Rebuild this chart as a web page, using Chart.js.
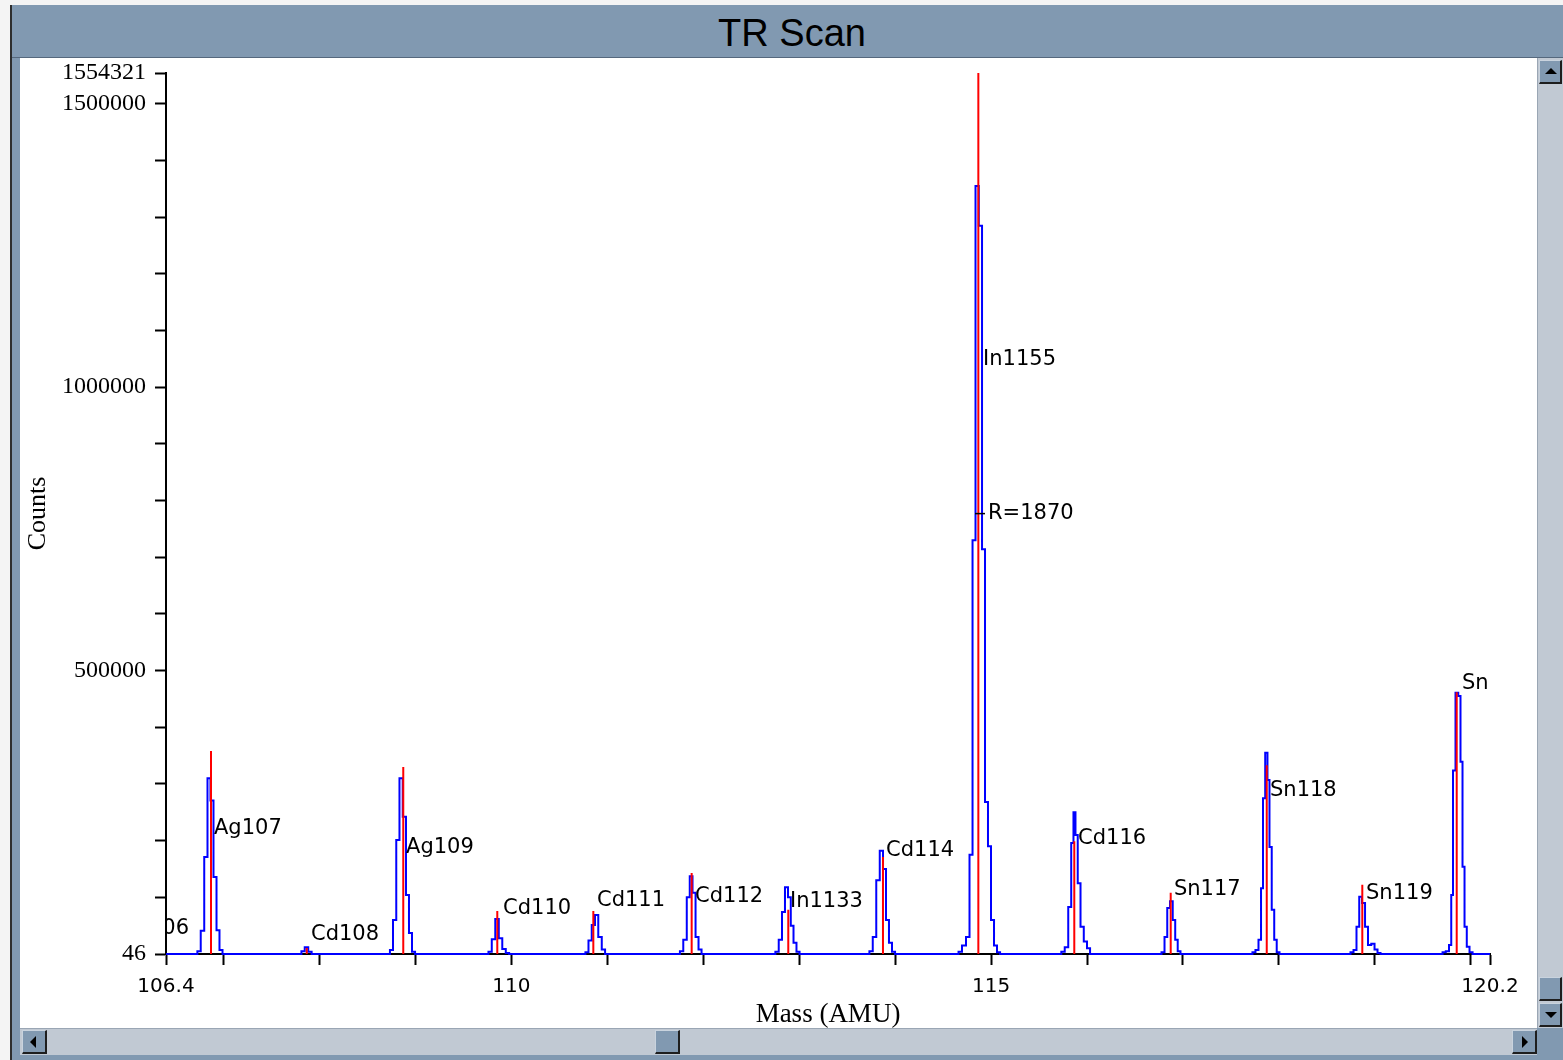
<!DOCTYPE html>
<html>
<head>
<meta charset="utf-8">
<script src="https://cdn.jsdelivr.net/npm/chart.js@4.4.1/dist/chart.umd.min.js"></script>
<style>
  html, body { margin:0; padding:0; }
  body { width:1563px; height:1060px; position:relative; overflow:hidden; background:#f4f4f4; font-family:"Liberation Sans", Arial, sans-serif; }
  .abs { position:absolute; box-sizing:border-box; }
  .btn { background:#8199b1; border-right:2px solid #1e1e1e; border-bottom:2px solid #1e1e1e; border-top:1px solid #c9d3de; border-left:1px solid #c9d3de; }
  .tri { position:absolute; width:0; height:0; }
</style>
</head>
<body>
<div class="abs" style="left:10px;top:5px;width:2px;height:1055px;background:#2e2e2e"></div>
<div class="abs" style="left:12px;top:5px;width:1551px;height:53px;background:#8199b1;border-bottom:1px solid #55687d"></div>
<div class="abs" style="left:592px;top:10px;width:400px;height:46px;text-align:center;font-size:38px;line-height:46px;color:#000;">TR Scan</div>
<div class="abs" style="left:12px;top:58px;width:8px;height:1002px;background:#8199b1"></div>
<div class="abs" style="left:20px;top:58px;width:1517px;height:970px;background:#fff"></div>
<canvas id="c" width="1517" height="970" style="position:absolute;left:20px;top:58px"></canvas>
<!-- right scrollbar -->
<div class="abs" style="left:1537px;top:58px;width:26px;height:970px;background:#c1c9d3;border-left:1px solid #9aa6b4"></div>
<div class="abs btn" style="left:1539px;top:60px;width:23px;height:24px"><div class="tri" style="left:5px;top:7px;border-left:6px solid transparent;border-right:6px solid transparent;border-bottom:6px solid #000"></div></div>
<div class="abs btn" style="left:1539px;top:977px;width:23px;height:24px"></div>
<div class="abs btn" style="left:1539px;top:1003px;width:23px;height:24px"><div class="tri" style="left:5px;top:8px;border-left:6px solid transparent;border-right:6px solid transparent;border-top:6px solid #000"></div></div>
<!-- bottom scrollbar -->
<div class="abs" style="left:20px;top:1028px;width:1517px;height:27px;background:#c1c9d3;border-top:1px solid #9aa6b4"></div>
<div class="abs btn" style="left:22px;top:1030px;width:25px;height:24px"><div class="tri" style="left:7px;top:5px;border-top:6px solid transparent;border-bottom:6px solid transparent;border-right:6px solid #000"></div></div>
<div class="abs btn" style="left:655px;top:1030px;width:25px;height:24px"></div>
<div class="abs btn" style="left:1512px;top:1030px;width:25px;height:24px"><div class="tri" style="left:9px;top:5px;border-top:6px solid transparent;border-bottom:6px solid transparent;border-left:6px solid #000"></div></div>
<div class="abs" style="left:1537px;top:1028px;width:26px;height:32px;background:#8199b1"></div>
<div class="abs" style="left:12px;top:1055px;width:1525px;height:5px;background:#8199b1"></div>

<script>
// ---------- data ----------
const yMin = 46;
const yMax = 1554321;
const xMin = 106.4;
const xMax = 120.2;

// centroid sticks (red)
const redMass   = [106.869, 107.867, 108.873, 109.853, 110.854, 111.879, 112.886, 113.873, 114.867, 115.867, 116.872, 117.873, 118.869, 119.853];
const redCounts = [358000, 10500, 330000, 76000, 76000, 143000, 78000, 171000, 1554321, 199000, 108000, 333000, 122000, 462000];

// profile scan (blue)
const blueMass = [
  106.400,
  106.710, 106.744, 106.780, 106.817, 106.848, 106.879, 106.911, 106.942, 106.973, 107.005,
  107.795, 107.828, 107.864, 107.901, 107.935,
  108.718, 108.750, 108.782, 108.818, 108.849, 108.886, 108.917, 108.948, 108.980, 109.012,
  109.745, 109.777, 109.814, 109.850, 109.887, 109.923, 109.960, 109.993,
  110.755, 110.788, 110.819, 110.856, 110.887, 110.924, 110.960, 110.993,
  111.740, 111.773, 111.810, 111.846, 111.872, 111.904, 111.935, 111.966, 111.998,
  112.735, 112.768, 112.805, 112.836, 112.867, 112.899, 112.925, 112.956, 112.987, 113.020,
  113.715, 113.748, 113.785, 113.821, 113.858, 113.889, 113.920, 113.951, 113.983, 114.015,
  114.645, 114.676, 114.718, 114.759, 114.791, 114.822, 114.853, 114.890, 114.921, 114.952, 114.983, 115.015, 115.046, 115.077, 115.110,
  115.715, 115.749, 115.786, 115.822, 115.848, 115.869, 115.890, 115.916, 115.948, 115.984, 116.015, 116.048,
  116.760, 116.792, 116.823, 116.849, 116.880, 116.906, 116.932, 116.958, 116.990,
  117.708, 117.740, 117.771, 117.803, 117.824, 117.844, 117.870, 117.891, 117.912, 117.938, 117.964, 117.990, 118.022,
  118.730, 118.762, 118.793, 118.824, 118.850, 118.882, 118.913, 118.944, 118.981, 119.012, 119.043, 119.075,
  119.690, 119.721, 119.757, 119.788, 119.804, 119.825, 119.856, 119.882, 119.903, 119.924, 119.945, 119.971, 120.002, 120.035,
  120.200
];
const blueCounts = [
  46,
  46, 5000, 41000, 171000, 310000, 271000, 136000, 42000, 7000, 46,
  46, 5000, 12000, 4000, 46,
  46, 7000, 60000, 201000, 310000, 242000, 104000, 37000, 4000, 46,
  46, 4000, 26000, 62000, 28000, 9000, 2000, 46,
  46, 3000, 24000, 51000, 69000, 30000, 8000, 46,
  46, 5000, 25000, 100000, 137000, 108000, 30000, 8000, 46,
  46, 4000, 25000, 74000, 118000, 100000, 50000, 20000, 4000, 46,
  46, 5000, 30000, 130000, 182000, 150000, 60000, 20000, 4000, 46,
  46, 4000, 15000, 30000, 175000, 730000, 1355000, 1285000, 714000, 268000, 190000, 60000, 15000, 3000, 46,
  46, 4000, 12000, 83000, 196000, 250000, 210000, 125000, 48000, 22000, 10000, 46,
  46, 3000, 30000, 81000, 93000, 60000, 25000, 5000, 46,
  46, 3000, 7000, 25000, 116000, 275000, 355000, 307000, 189000, 78000, 25000, 3000, 46,
  46, 3000, 7000, 48000, 101000, 90000, 48000, 16000, 18000, 8000, 2000, 46,
  46, 3000, 5000, 16000, 104000, 324000, 461000, 455000, 339000, 154000, 48000, 13000, 3000, 46,
  46
];

// peak annotations (text, anchor mass, anchor counts)
const labelText   = ['Cd106', 'Ag107', 'Cd108', 'Ag109', 'Cd110', 'Cd111', 'Cd112', 'In1133', 'Cd114', 'In1155', 'R=1870', 'Cd116', 'Sn117', 'Sn118', 'Sn119', 'Sn'];
const labelMass   = [106.640, 106.900, 107.911, 108.902, 109.913, 110.892, 111.914, 112.904, 113.905, 114.916, 114.968, 115.906, 116.906, 117.907, 118.908, 119.908];
const labelCounts = [45800, 222000, 35000, 187000, 81000, 95000, 102000, 92000, 183000, 1048800, 777000, 204000, 113000, 289000, 106000, 478000];

// axis ticks
const xTickValues = [106.4, 107, 108, 109, 110, 111, 112, 113, 114, 115, 116, 117, 118, 119, 120, 120.2];
const xLabelValues = [106.4, 110, 115, 120.2];
const xLabelTexts  = ['106.4', '110', '115', '120.2'];
const yTickValues = [46, 100000, 200000, 300000, 400000, 500000, 600000, 700000, 800000, 900000, 1000000, 1100000, 1200000, 1300000, 1400000, 1500000, 1554321];
const yLabelValues = [46, 500000, 1000000, 1500000, 1554321];
const yLabelTexts  = ['46', '500000', '1000000', '1500000', '1554321'];

// ---------- build datasets ----------
const bluePoints = blueMass.map((m, i) => ({ x: m, y: blueCounts[i] }));
const redPoints = [];
redMass.forEach((m, i) => {
  redPoints.push({ x: m, y: yMin });
  redPoints.push({ x: m, y: redCounts[i] });
  redPoints.push({ x: m, y: null });
});

const labelPlugin = {
  id: 'peakLabels',
  afterDatasetsDraw(chart) {
    const { ctx, chartArea, scales } = chart;
    ctx.save();
    ctx.beginPath();
    ctx.rect(chartArea.left, 0, chart.width - chartArea.left, chart.height);
    ctx.clip();
    ctx.fillStyle = '#000';
    ctx.font = '21px "DejaVu Sans"';
    ctx.textBaseline = 'middle';
    labelText.forEach((t, i) => {
      const px = scales.x.getPixelForValue(labelMass[i]);
      const py = scales.y.getPixelForValue(labelCounts[i]);
      if (i === 0) { ctx.textAlign = 'right'; } else { ctx.textAlign = 'left'; }
      ctx.fillText(t, px, py);
      if (t.startsWith('R=')) {
        ctx.strokeStyle = '#000';
        ctx.lineWidth = 1.5;
        ctx.beginPath();
        ctx.moveTo(px - 13, py);
        ctx.lineTo(px - 3, py);
        ctx.stroke();
      }
    });
    ctx.restore();
  }
};

new Chart(document.getElementById('c'), {
  type: 'line',
  data: {
    datasets: [
      { data: redPoints, borderColor: '#ff0000', borderWidth: 2, pointRadius: 0, spanGaps: false, order: 0, tension: 0, clip: false },
      { data: bluePoints, borderColor: '#0000ff', borderWidth: 2, pointRadius: 0, stepped: 'middle', order: 1, clip: false }
    ]
  },
  options: {
    responsive: false,
    devicePixelRatio: 1,
    animation: false,
    layout: { padding: { left: 0, right: 47, top: 15, bottom: 0 } },
    plugins: { legend: { display: false }, tooltip: { enabled: false } },
    scales: {
      x: {
        type: 'linear', min: xMin, max: xMax,
        afterFit: s => { s.height = 74; s.paddingLeft = 0; s.paddingRight = 0; },
        afterBuildTicks: s => { s.ticks = xTickValues.map(v => ({ value: v })); },
        ticks: {
          autoSkip: false, maxRotation: 0, padding: 10, color: '#000',
          font: { family: 'DejaVu Sans', size: 20 },
          callback: v => { const i = xLabelValues.indexOf(v); return i >= 0 ? xLabelTexts[i] : ''; }
        },
        grid: { drawOnChartArea: false, drawTicks: true, tickLength: 11, tickColor: '#000', tickWidth: 2 },
        border: { display: true, color: '#000', width: 2 },
        title: { display: true, text: 'Mass (AMU)', color: '#000', font: { family: 'Liberation Serif', size: 27, lineHeight: 1 }, padding: { top: 0, bottom: 0 } }
      },
      y: {
        type: 'linear', min: yMin, max: yMax,
        afterFit: s => { s.width = 146; s.paddingTop = 0; s.paddingBottom = 0; },
        afterBuildTicks: s => { s.ticks = yTickValues.map(v => ({ value: v })); },
        ticks: {
          autoSkip: false, padding: 9, color: '#000',
          font: { family: 'Liberation Serif', size: 24 },
          callback: v => { const i = yLabelValues.indexOf(v); return i >= 0 ? yLabelTexts[i] : ''; }
        },
        grid: { drawOnChartArea: false, drawTicks: true, tickLength: 11, tickColor: '#000', tickWidth: 2 },
        border: { display: true, color: '#000', width: 2 },
        title: { display: true, text: 'Counts', color: '#000', font: { family: 'Liberation Serif', size: 26, lineHeight: 1 }, padding: { top: 5, bottom: 0 } }
      }
    }
  },
  plugins: [labelPlugin]
});
</script>
</body>
</html>
